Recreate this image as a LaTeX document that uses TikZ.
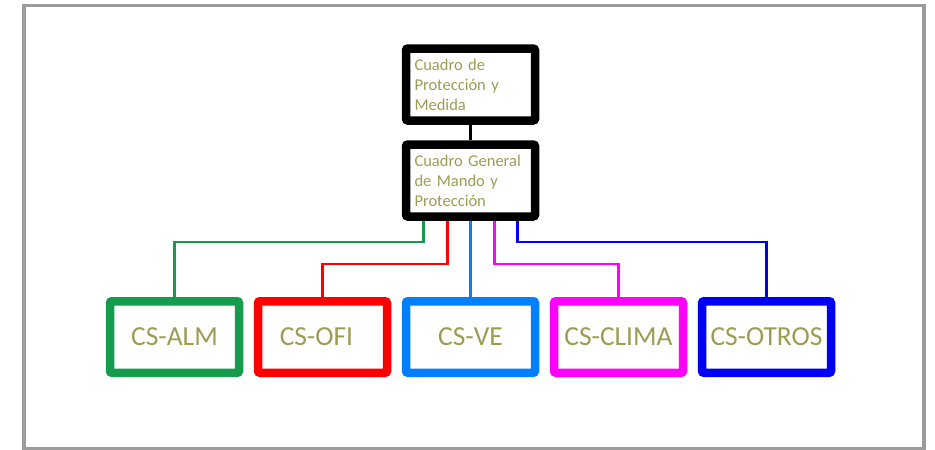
\documentclass[tikz,border=0pt]{standalone}
\usepackage{fontspec}
\setmainfont{Carlito}
\definecolor{olivetext}{RGB}{156,156,82}
\definecolor{almgreen}{RGB}{20,155,75}
\definecolor{ofired}{RGB}{255,0,0}
\definecolor{vecyan}{RGB}{0,128,255}
\definecolor{climapink}{RGB}{255,0,255}
\definecolor{otrosblue}{RGB}{0,0,245}
\definecolor{frame}{RGB}{155,155,155}

\begin{document}
\begin{tikzpicture}[x=1pt, y=-1pt, node distance={148pt},
  cuadro/.style = {draw, line width=8.5pt, rounded corners=2pt, minimum width=129pt, minimum height=72pt, text width=112pt, align=left, inner sep=0pt, text=olivetext, font=\fontsize{16.5}{20}\selectfont},
  sub/.style = {draw=#1, line width=8.5pt, rounded corners=2pt, minimum width=129pt, minimum height=71.5pt, inner sep=0pt, text=olivetext, font=\fontsize{27.5}{30}\selectfont},
  linea/.style = {draw=#1, line width=2.5pt}]
\useasboundingbox (0,0) rectangle (935,450);
\draw[frame, line width=3.5pt] (24,5.5) rectangle (924,448.5);
\node[cuadro] (1) at (470.5,84.5) {Cuadro de\\Protección y\\Medida};
\node[cuadro] (2) at (470.5,180.5) {Cuadro General\\de Mando y\\Protección};
\node[sub=vecyan] (5) at (470.5,337) {CS-VE};
\node[sub=ofired] (4) [left of=5] {\hspace*{-12pt}CS-OFI};
\node[sub=almgreen] (3) [left of=4] {CS-ALM};
\node[sub=climapink] (6) [right of=5] {CS-CLIMA};
\node[sub=otrosblue] (7) [right of=6] {CS-OTROS};
\draw[line width=3pt] (1) -- (2);
\draw[linea=almgreen] ([xshift=-47pt]2.south) -- ++(0,21) -| (3);
\draw[linea=ofired] ([xshift=-23pt]2.south) -- ++(0,43) -| (4);
\draw[linea=vecyan] (2) -- (5);
\draw[linea=climapink] ([xshift=24pt]2.south) -- ++(0,43) -| (6);
\draw[linea=otrosblue] ([xshift=47pt]2.south) -- ++(0,21) -| (7);
\end{tikzpicture}
\end{document}
